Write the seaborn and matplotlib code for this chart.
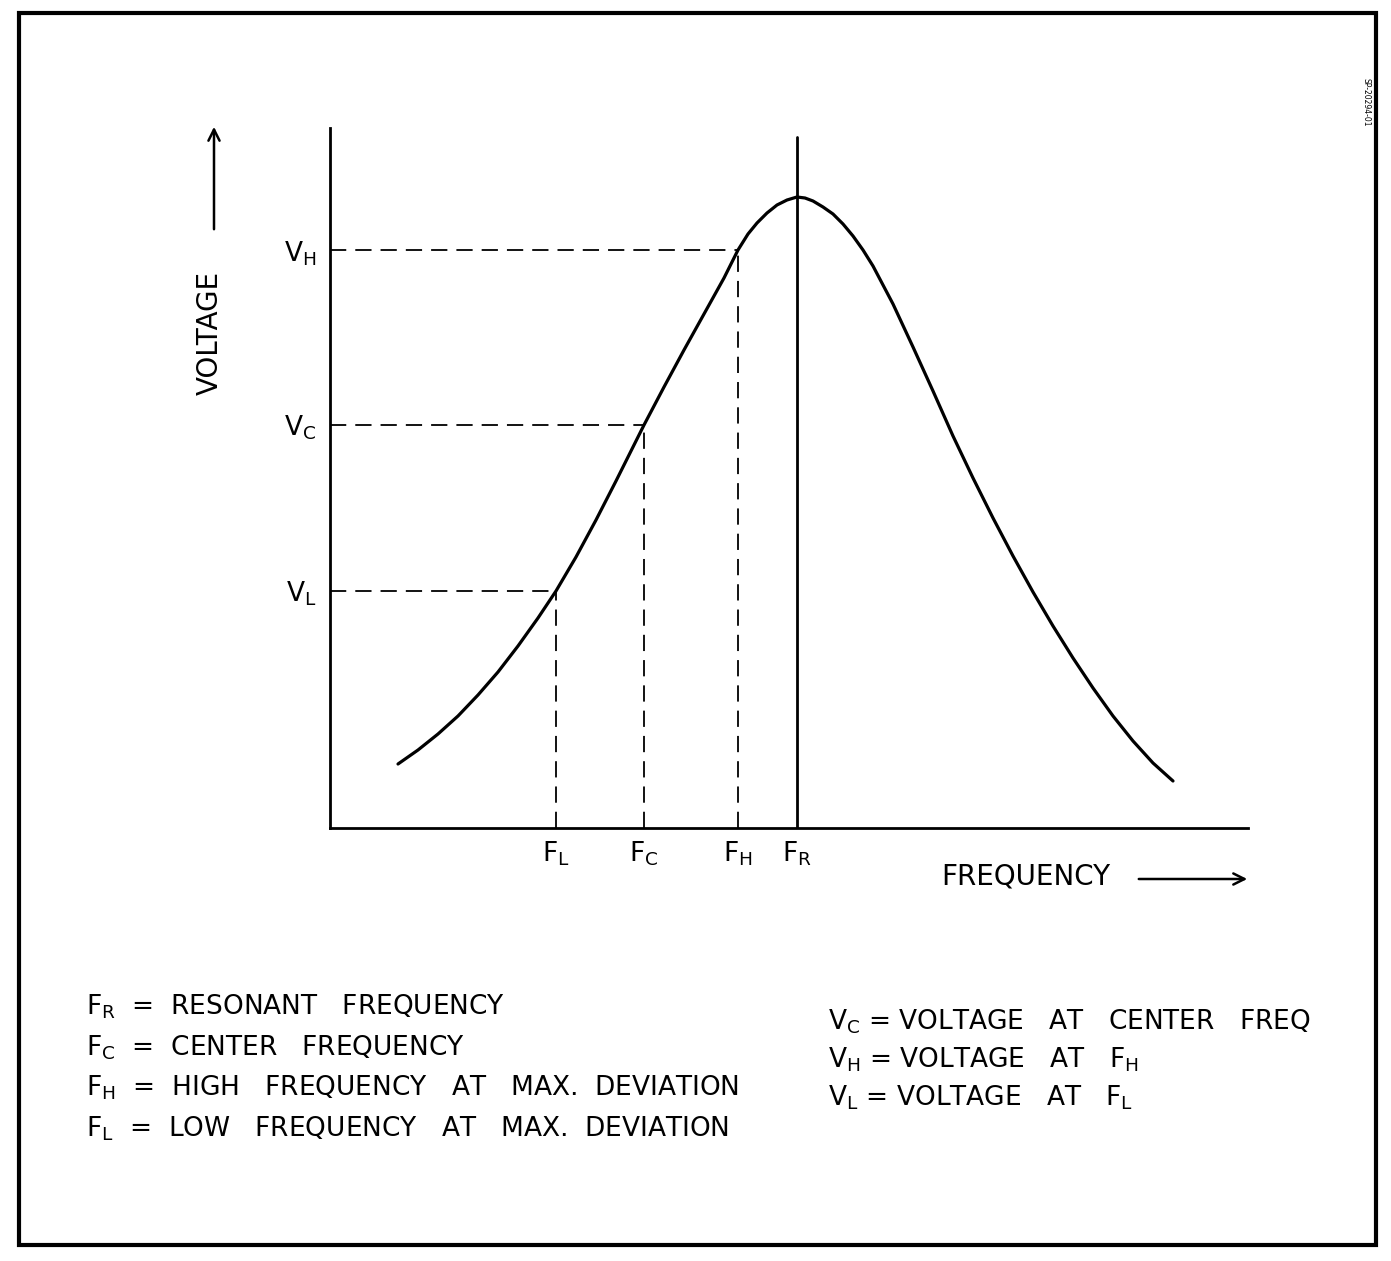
import matplotlib
matplotlib.use("Agg")
import matplotlib.pyplot as plt
import seaborn as sns
from matplotlib.patches import Rectangle, FancyArrowPatch

sns.set_theme(style="white")
plt.rcParams['font.family'] = ['DejaVu Sans']
plt.rcParams['mathtext.default'] = 'regular'
plt.rcParams['text.color'] = 'black'

# -------------------------------
# data (arbitrary units: frequency 0..918, voltage 0..700)
# -------------------------------
freq = [68, 88, 108, 128, 148, 168, 188, 208, 226, 246, 266, 286, 306, 314,
        334, 354, 374, 394, 408, 418, 427, 437, 447, 457, 467, 475, 483, 493,
        503, 513, 523, 533, 543, 563, 583, 603, 623, 643, 663, 683, 703, 723,
        743, 763, 783, 803, 823, 843]
volt = [64, 78, 94, 112, 133, 156, 182, 210, 237, 271, 308, 347, 387, 403,
        441, 478, 514, 550, 578, 594, 605, 615, 623, 628, 631, 630, 627, 621,
        614, 604, 592, 578, 562, 524, 481, 437, 392, 350, 310, 272, 236, 202,
        170, 140, 112, 87, 65, 47]

dev_freqs = [226, 314, 408]     # F_L, F_C, F_H
dev_volts = [237, 403, 578]     # V_L, V_C, V_H
res_freq = 467                  # F_R
res_line_top = 691

x_tick_labels = ['$F_L$', '$F_C$', '$F_H$', '$F_R$']
y_tick_labels = ['$V_L$', '$V_C$', '$V_H$']

freq_notes = ['$F_R$  =  RESONANT   FREQUENCY',
              '$F_C$  =  CENTER   FREQUENCY',
              '$F_H$  =  HIGH   FREQUENCY   AT   MAX.  DEVIATION',
              '$F_L$  =  LOW   FREQUENCY   AT   MAX.  DEVIATION']
volt_notes = ['$V_C$ = VOLTAGE   AT   CENTER   FREQ',
              '$V_H$ = VOLTAGE   AT   $F_H$',
              '$V_L$ = VOLTAGE   AT   $F_L$']

W, H = 1391, 1261
fig = plt.figure(figsize=(W / 100, H / 100), dpi=100)


def fx(px):
    return px / W


def fy(py):
    return 1 - py / H


ax = fig.add_axes([fx(330), fy(828), (1248 - 330) / W, (828 - 128) / H])
ax.set_xlim(0, 918)
ax.set_ylim(0, 700)

# resonance curve
sns.lineplot(x=freq, y=volt, color='black', linewidth=2.3, ax=ax, sort=False)

# dashed projections
dash = (0, (9, 5))
for f, v in zip(dev_freqs, dev_volts):
    ax.plot([0, f], [v, v], color='black', lw=1.3, linestyle=dash)
    ax.plot([f, f], [0, v], color='black', lw=1.3, linestyle=dash)

# resonant frequency marker
ax.plot([res_freq, res_freq], [0, res_line_top], color='black', lw=2)

for side in ['top', 'right']:
    ax.spines[side].set_visible(False)
for side in ['left', 'bottom']:
    ax.spines[side].set_color('black')
    ax.spines[side].set_linewidth(2)

ax.set_xticks(dev_freqs + [res_freq])
ax.set_xticklabels(x_tick_labels)
ax.set_yticks(dev_volts)
ax.set_yticklabels(y_tick_labels)
ax.tick_params(axis='both', length=0, labelsize=19, colors='black')
ax.tick_params(axis='x', pad=8)
ax.tick_params(axis='y', pad=10)
ax.grid(False)

# axis titles with arrows
fig.text(fx(210), fy(333), 'VOLTAGE', rotation=90, ha='center', va='center',
         fontsize=20)
fig.text(fx(941), fy(877), 'FREQUENCY', ha='left', va='center', fontsize=20)
fig.add_artist(FancyArrowPatch(
    (fx(214), fy(232)), (fx(214), fy(124)), transform=fig.transFigure,
    arrowstyle='->', mutation_scale=20, color='black', lw=1.8))
fig.add_artist(FancyArrowPatch(
    (fx(1136), fy(879)), (fx(1250), fy(879)), transform=fig.transFigure,
    arrowstyle='->', mutation_scale=20, color='black', lw=1.8))

# definitions
for i, note in enumerate(freq_notes):
    fig.text(fx(86), fy(1007 + i * 40.5), note, ha='left', va='center',
             fontsize=19)
for i, note in enumerate(volt_notes):
    fig.text(fx(828), fy(1022 + i * 38), note, ha='left', va='center',
             fontsize=19)

# drawing number
fig.text(fx(1366), fy(102), 'SP-20294-01', rotation=-90, ha='center',
         va='center', fontsize=5.5)

# frame
fig.add_artist(Rectangle((fx(19), fy(1245)), fx(1376) - fx(19),
                         fy(13) - fy(1245), transform=fig.transFigure,
                         fill=False, edgecolor='black', lw=3))

fig.savefig('out.png', dpi=100, facecolor='white')
